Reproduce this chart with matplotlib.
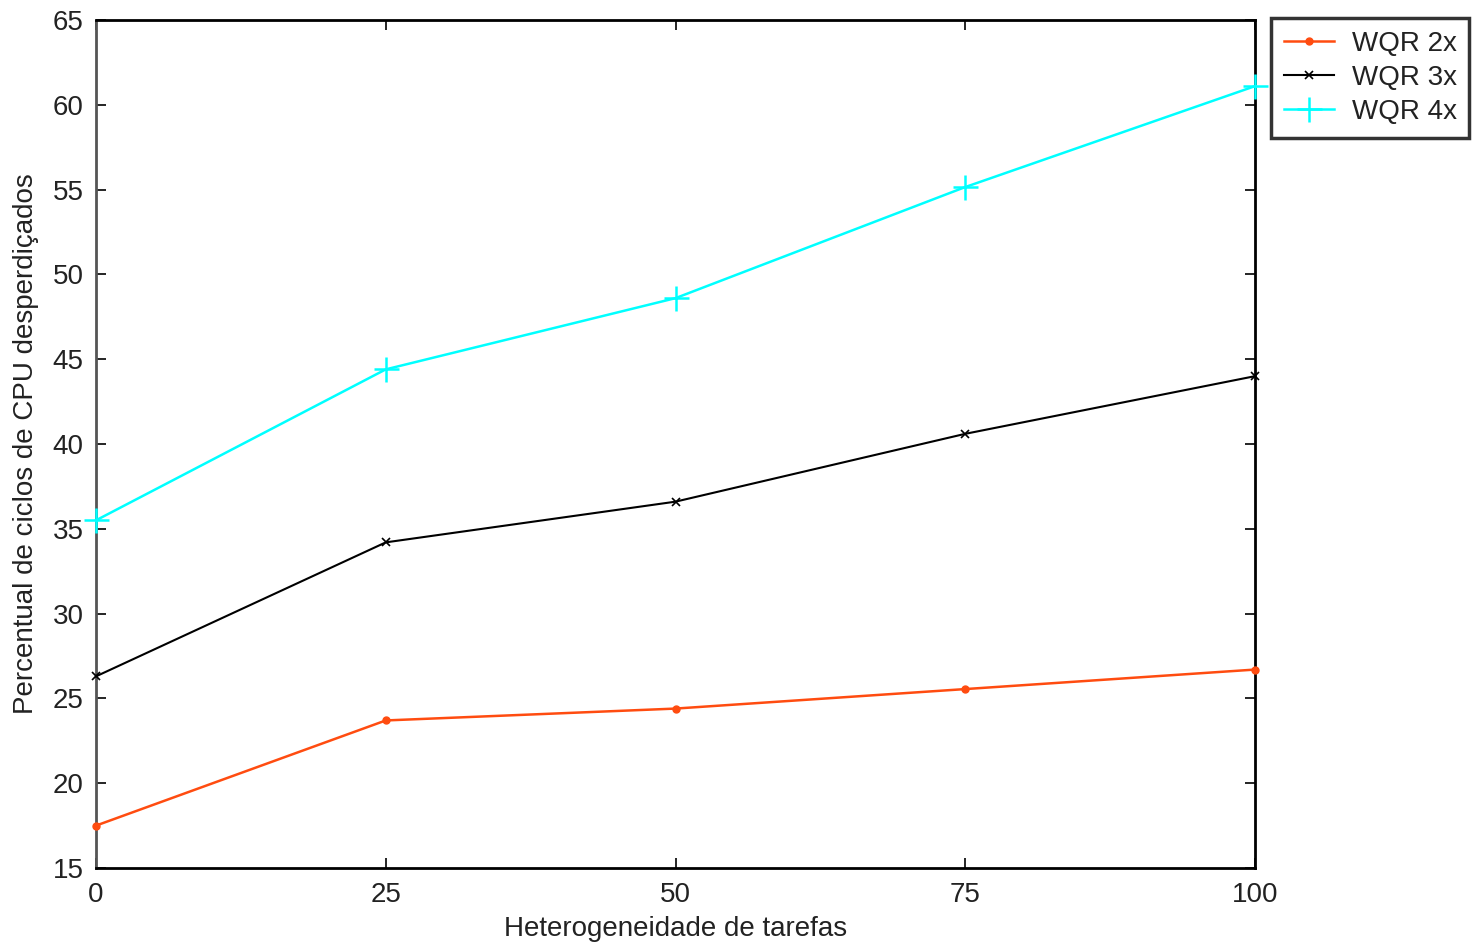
import matplotlib
matplotlib.use("Agg")
import matplotlib.pyplot as plt

x = [0, 25, 50, 75, 100]
wqr2 = [17.5, 23.7, 24.4, 25.55, 26.7]
wqr3 = [26.3, 34.2, 36.6, 40.6, 44.0]
wqr4 = [35.5, 44.4, 48.6, 55.15, 61.1]
labels = ["WQR 2x", "WQR 3x", "WQR 4x"]

plt.rcParams['font.family'] = ['Liberation Sans', 'DejaVu Sans']

fig = plt.figure(figsize=(14.74, 9.49), dpi=100)
ax = fig.add_axes([96/1474, 1-868/949, (1255-96)/1474, (868-20)/949])

ax.plot(x, wqr2, color='#ff4c10', marker='.', markersize=10, linewidth=1.8, label=labels[0], clip_on=False, zorder=3)
ax.plot(x, wqr3, color='black', marker='x', markersize=6, markeredgewidth=1.2, linewidth=1.5, label=labels[1], clip_on=False, zorder=3)
ax.plot(x, wqr4, color='#00ffff', marker='+', markersize=18, markeredgewidth=1.8, linewidth=1.8, label=labels[2], clip_on=False, zorder=3)

ax.set_xlim(0, 100)
ax.set_ylim(15, 65)
ax.set_xticks(x)
ax.set_yticks(range(15, 66, 5))
ax.tick_params(direction='in', length=7, labelsize=20, labelcolor='#222222', width=1.2)
ax.tick_params(axis='x', pad=10)
ax.tick_params(axis='y', pad=9)
ax.tick_params(top=True, right=True)
for s in ['top', 'bottom', 'right']:
    ax.spines[s].set_linewidth(2)
ax.spines['left'].set_linestyle((0, (2, 1)))
ax.spines['left'].set_color('#555555')
ax.spines['left'].set_linewidth(2)

ax.set_xlabel("Heterogeneidade de tarefas", fontsize=20, color='#222222', labelpad=6)
ax.set_ylabel("Percentual de ciclos de CPU desperdiçados", fontsize=20, color='#222222', labelpad=10)

leg = ax.legend(loc='upper left', bbox_to_anchor=(1271/1474, 1-18/949), bbox_transform=fig.transFigure,
                fontsize=20, frameon=True, fancybox=False, borderaxespad=0,
                handlelength=1.8, handletextpad=0.65, labelspacing=0.3, borderpad=0.45)
leg.get_frame().set_edgecolor('black')
leg.get_frame().set_linewidth(2.5)
for t in leg.get_texts():
    t.set_color('#222222')

fig.savefig("out.png", dpi=100)
